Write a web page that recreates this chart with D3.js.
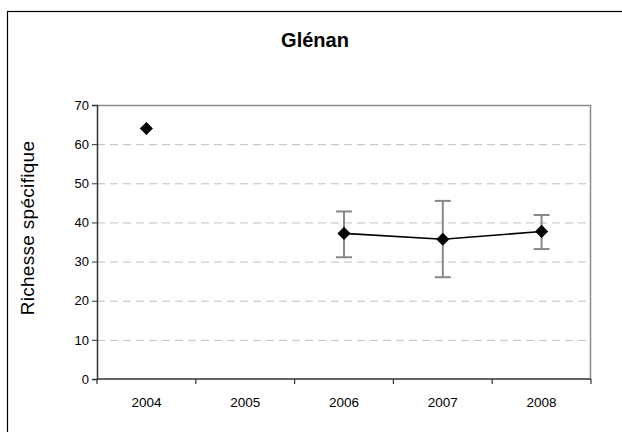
<!DOCTYPE html>
<html>
<head>
<meta charset="utf-8">
<script src="https://cdn.jsdelivr.net/npm/d3@7"></script>
<style>
  body { margin: 0; background: #fff; }
  svg { display: block; font-family: Arial, "Liberation Sans", sans-serif; }
</style>
</head>
<body>
<div id="app"></div>
<script>
const years = ['2004', '2005', '2006', '2007', '2008'];
const means = [64, null, 37.2, 35.7, 37.7];
const upper = [null, null, 42.8, 45.5, 41.9];
const lower = [null, null, 31.1, 26.0, 33.2];
const yTicks = [0, 10, 20, 30, 40, 50, 60, 70];

const W = 622, H = 432;
const svg = d3.select('#app').append('svg').attr('width', W).attr('height', H);

// outer chart frame (cut by the window on the right and bottom)
svg.append('rect')
  .attr('x', 7.5).attr('y', 11.5)
  .attr('width', 700).attr('height', 500)
  .attr('fill', 'none').attr('stroke', '#000').attr('stroke-width', 1.2);

const pLeft = 97, pRight = 591, pTop = 105, pBottom = 379;

const x = d3.scaleBand().domain(years).range([pLeft, pRight]);
const y = d3.scaleLinear().domain([0, 70]).range([pBottom, pTop]);

svg.append('text')
  .attr('x', 315).attr('y', 47)
  .attr('text-anchor', 'middle')
  .attr('font-size', 20).attr('font-weight', 'bold')
  .text('Glénan');

// grid lines
svg.append('g').selectAll('line')
  .data(yTicks.filter(v => v > 0 && v < 70))
  .enter().append('line')
  .attr('x1', pLeft).attr('x2', pRight)
  .attr('y1', d => y(d) + 0.5).attr('y2', d => y(d) + 0.5)
  .attr('stroke', '#c0c0c0').attr('stroke-dasharray', '8,5');

// plot area top and right border
svg.append('path')
  .attr('d', `M${pLeft},${pTop + 0.5} L${pRight - 0.5},${pTop + 0.5} L${pRight - 0.5},${pBottom}`)
  .attr('fill', 'none').attr('stroke', '#8c8c8c').attr('stroke-width', 1.5);

// y axis
const yAxis = svg.append('g')
  .attr('transform', `translate(${pLeft},0)`)
  .call(d3.axisLeft(y).tickValues(yTicks).tickSize(5).tickPadding(3));
yAxis.select('.domain').attr('stroke', '#333').attr('stroke-width', 1.5);
yAxis.selectAll('.tick line').attr('stroke', '#333');
yAxis.selectAll('text').attr('font-size', 13).attr('fill', '#000')
  .attr('font-family', 'Arial, "Liberation Sans", sans-serif');

// x axis: ticks on category boundaries
const xg = svg.append('g').attr('transform', `translate(0,${pBottom})`);
xg.append('line')
  .attr('x1', pLeft).attr('x2', pRight)
  .attr('stroke', '#333').attr('stroke-width', 1.5);
xg.selectAll('line.tk')
  .data(years.map(d => x(d)).concat([pRight]))
  .enter().append('line').attr('class', 'tk')
  .attr('x1', d => d).attr('x2', d => d)
  .attr('y1', 0).attr('y2', 5)
  .attr('stroke', '#333').attr('stroke-width', 1.2);
xg.selectAll('text')
  .data(years)
  .enter().append('text')
  .attr('x', d => x(d) + x.bandwidth() / 2)
  .attr('y', 28)
  .attr('text-anchor', 'middle')
  .attr('font-size', 13.5)
  .text(d => d);

// y label
svg.append('text')
  .attr('transform', 'translate(34,228) rotate(-90)')
  .attr('text-anchor', 'middle')
  .attr('font-size', 19)
  .attr('letter-spacing', 0.3)
  .text('Richesse spécifique');

const pts = years.map((d, i) => ({
  cx: x(d) + x.bandwidth() / 2, v: means[i], hi: upper[i], lo: lower[i]
}));

// error bars
const eb = svg.append('g').selectAll('g')
  .data(pts.filter(d => d.hi != null))
  .enter().append('g')
  .attr('stroke', '#888').attr('stroke-width', 2);
eb.append('line')
  .attr('x1', d => d.cx).attr('x2', d => d.cx)
  .attr('y1', d => y(d.hi)).attr('y2', d => y(d.lo));
eb.append('line')
  .attr('x1', d => d.cx - 8).attr('x2', d => d.cx + 8)
  .attr('y1', d => y(d.hi)).attr('y2', d => y(d.hi));
eb.append('line')
  .attr('x1', d => d.cx - 8).attr('x2', d => d.cx + 8)
  .attr('y1', d => y(d.lo)).attr('y2', d => y(d.lo));

// line joining consecutive values
const line = d3.line()
  .defined(d => d.v != null)
  .x(d => d.cx).y(d => y(d.v));
svg.append('path')
  .datum(pts)
  .attr('d', line)
  .attr('fill', 'none').attr('stroke', '#000').attr('stroke-width', 1.6);

// diamond markers
svg.append('g').selectAll('path')
  .data(pts.filter(d => d.v != null))
  .enter().append('path')
  .attr('d', d3.symbol().type(d3.symbolDiamond2).size(110))
  .attr('transform', d => `translate(${d.cx},${y(d.v)})`)
  .attr('fill', '#000');
</script>
</body>
</html>
